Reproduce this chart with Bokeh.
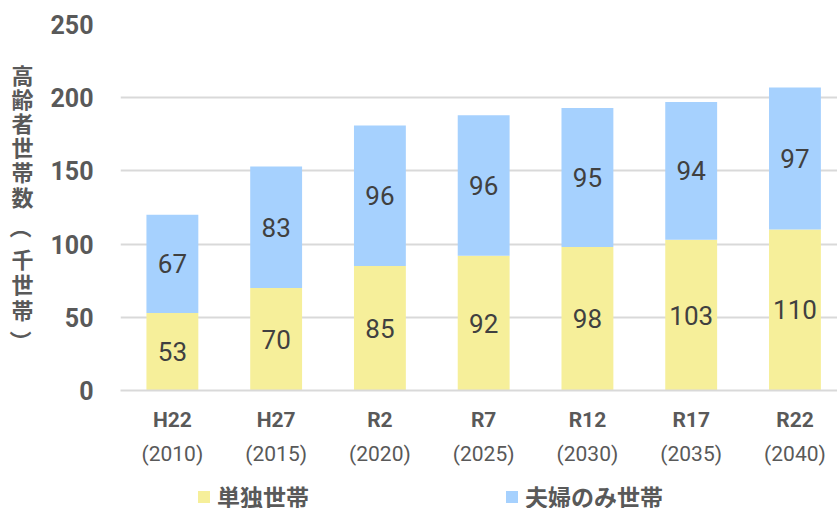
import math
from bokeh.plotting import figure
from bokeh.models import (Range1d, FixedTicker, LinearAxis, Legend, LegendItem,
                          ColumnDataSource, Grid, Label)
from bokeh.layouts import column, row
from bokeh.core.properties import value
from bokeh.embed import file_html
from bokeh.resources import INLINE

eras = ["H22", "H27", "R2", "R7", "R12", "R17", "R22"]
years = ["(2010)", "(2015)", "(2020)", "(2025)", "(2030)", "(2035)", "(2040)"]
single = [53, 70, 85, 92, 98, 103, 110]
couple = [67, 83, 96, 96, 95, 94, 97]
y_ticks = [0, 50, 100, 150, 200, 250]
series_names = ["単独世帯", "夫婦のみ世帯"]
colors = ["#F6EF9A", "#A6D1FE"]
y_label = "高齢者世帯数（千世帯）"

xs = list(range(len(eras)))
src = ColumnDataSource(dict(
    x=xs, single=single, couple=couple,
    single_mid=[s / 2 for s in single],
    couple_mid=[s + c / 2 for s, c in zip(single, couple)],
    single_txt=[str(v) for v in single],
    couple_txt=[str(v) for v in couple],
))

LAB_W = 44
TOP_H = 470
FRAME_TOP = 24
FRAME_BOTTOM = 390

p = figure(width=837 - LAB_W, height=TOP_H, output_backend="svg", toolbar_location=None,
           x_range=Range1d(-0.5, 6.41), y_range=Range1d(0, 250),
           x_axis_location=None, y_axis_location=None,
           min_border_left=120 - LAB_W, min_border_right=0, min_border_top=FRAME_TOP,
           min_border_bottom=TOP_H - FRAME_BOTTOM)
p.outline_line_color = None
p.background_fill_color = "white"
for g in list(p.grid):
    g.visible = False

yticker = FixedTicker(ticks=y_ticks)
p.add_layout(Grid(dimension=1, ticker=yticker, grid_line_color="#D9D9D9", grid_line_width=2))

rs = p.vbar_stack(["single", "couple"], x="x", width=0.5, source=src,
                  color=colors, line_color=None)

p.text(x="x", y="single_mid", text="single_txt", source=src, text_align="center",
       text_baseline="middle", text_font=value("Roboto"), text_font_size="26px",
       text_color="#404040")
p.text(x="x", y="couple_mid", text="couple_txt", source=src, text_align="center",
       text_baseline="middle", text_font=value("Roboto"), text_font_size="26px",
       text_color="#404040")

yaxis = LinearAxis(ticker=yticker)
yaxis.axis_line_color = None
yaxis.major_tick_line_color = None
yaxis.minor_tick_line_color = None
yaxis.major_label_text_font = "Roboto"
yaxis.major_label_text_font_style = "bold"
yaxis.major_label_text_font_size = "25px"
yaxis.major_label_text_color = "#595959"
yaxis.major_label_standoff = 21
p.add_layout(yaxis, "left")

xticker = FixedTicker(ticks=xs)
ax1 = LinearAxis(ticker=xticker, major_label_overrides={i: e for i, e in zip(xs, eras)})
ax1.axis_line_color = "#D9D9D9"
ax1.axis_line_width = 2
ax1.major_tick_line_color = None
ax1.minor_tick_line_color = None
ax1.major_label_text_font = "Roboto"
ax1.major_label_text_font_style = "bold"
ax1.major_label_text_font_size = "21px"
ax1.major_label_text_color = "#595959"
ax1.major_label_standoff = 11
p.add_layout(ax1, "below")

ax2 = LinearAxis(ticker=xticker, major_label_overrides={i: y for i, y in zip(xs, years)})
ax2.axis_line_color = None
ax2.major_tick_line_color = None
ax2.minor_tick_line_color = None
ax2.major_label_text_font = "Roboto"
ax2.major_label_text_font_size = "21px"
ax2.major_label_text_color = "#595959"
ax2.major_label_standoff = 1
p.add_layout(ax2, "below")

# y-axis title written vertically (one character per cell) in a strip on the left
lf = figure(width=LAB_W, height=TOP_H, output_backend="svg", toolbar_location=None,
            x_range=Range1d(0, LAB_W), y_range=Range1d(-FRAME_BOTTOM, -FRAME_TOP),
            x_axis_location=None, y_axis_location=None,
            min_border_left=0, min_border_right=0, min_border_top=FRAME_TOP,
            min_border_bottom=TOP_H - FRAME_BOTTOM)
lf.outline_line_color = None
for g in list(lf.grid):
    g.visible = False
chars = list(y_label)
cell_y = [73, 97, 121, 145, 170, 195, 227, 257, 282, 308, 341]
plain = [(c, y) for c, y in zip(chars, cell_y) if c not in "（）"]
lf.text(x=[22] * len(plain), y=[-y for _, y in plain], text=[c for c, _ in plain],
        text_align="center", text_baseline="middle", text_font=value("Noto Sans CJK JP"),
        text_font_style="bold", text_font_size="22px", text_color="#595959")
for c, y in zip(chars, cell_y):
    if c in "（）":
        lf.add_layout(Label(x=22, y=-y, text=c, angle=-math.pi / 2, text_align="center",
                            text_baseline="middle", text_font="Noto Sans CJK JP",
                            text_font_style="bold", text_font_size="22px",
                            text_color="#595959"))

# legend strip below
LEG_H = 508 - TOP_H
gf = figure(width=837, height=LEG_H, output_backend="svg", toolbar_location=None,
            x_range=Range1d(0, 1), y_range=Range1d(0, 1),
            x_axis_location=None, y_axis_location=None, min_border=0)
gf.outline_line_color = None
for g in list(gf.grid):
    g.visible = False
lr = [gf.vbar(x=[5], top=[1], width=0.1, color=c, line_color=None) for c in colors]
legend = Legend(items=[LegendItem(label=n, renderers=[r]) for n, r in zip(series_names, lr)],
                orientation="horizontal", location=(196, -5))
legend.label_text_font = "Noto Sans CJK JP"
legend.label_text_font_style = "bold"
legend.label_text_font_size = "23px"
legend.label_text_color = "#595959"
legend.glyph_width = 15
legend.glyph_height = 15
legend.label_standoff = 6
legend.spacing = 195
legend.padding = 0
legend.margin = 0
legend.border_line_color = None
legend.background_fill_alpha = 0
gf.add_layout(legend)

layout = column(row(lf, p, spacing=0), gf, spacing=0)

open("out.html", "w").write(file_html(layout, INLINE))
